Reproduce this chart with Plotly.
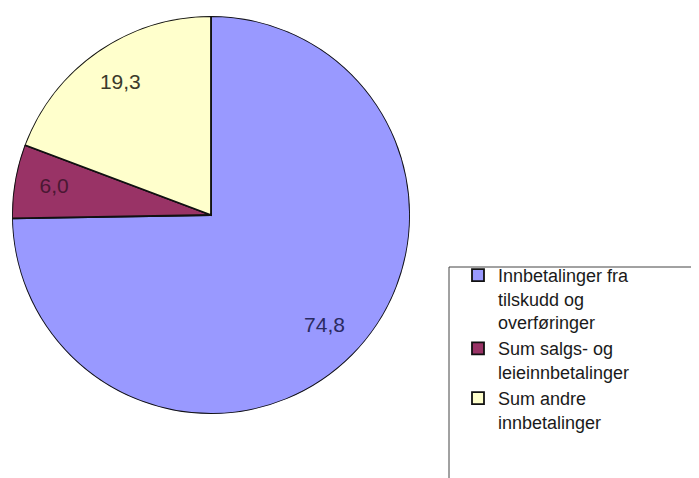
import numpy as np
import plotly.graph_objects as go

labels = [
    'Innbetalinger fra<br>tilskudd og<br>overføringer',
    'Sum salgs- og<br>leieinnbetalinger',
    'Sum andre<br>innbetalinger',
]
values = [74.8, 6.0, 19.3]
colors = ['#9999FF', '#993366', '#FFFFCC']
text_colors = ['#2a2a60', '#4a1833', '#3a3a2a']

W, H = 699, 478
OFF = 8  # page body margin in the browser

# pie box in page pixels
px0, px1, py0, py1 = 12, 410, 15, 415
dom_x = [(px0 - OFF) / W, (px1 - OFF) / W]
dom_y = [1 - (py1 - OFF) / H, 1 - (py0 - OFF) / H]

vals = np.array(values)
share = vals / vals.sum() * 360
mid = np.cumsum(share) - share / 2

fig = go.Figure()
# pie slices drawn as polar bars so the labels can sit on the same axes
for lab, s, m, c in zip(labels, share, mid, colors):
    fig.add_trace(go.Barpolar(
        r=[1], theta=[m], width=[s], base=0,
        name=lab,
        marker=dict(color=c, line=dict(color='#111111', width=1.8)),
        hoverinfo='name',
    ))

# value labels at 80% of the radius, on each slice's mid angle
fig.add_trace(go.Scatterpolar(
    r=[0.8] * len(values),
    theta=mid,
    mode='text',
    text=[f'{v:.1f}'.replace('.', ',') for v in values],
    textfont=dict(family='Liberation Sans, Arial', size=21, color=text_colors),
    showlegend=False,
    hoverinfo='skip',
))

fig.update_layout(
    width=W, height=H,
    paper_bgcolor='white',
    plot_bgcolor='white',
    margin=dict(l=0, r=0, t=0, b=0),
    font=dict(family='Liberation Sans, Arial', size=18, color='#1a1a1a'),
    polar=dict(
        domain=dict(x=dom_x, y=dom_y),
        bgcolor='rgba(0,0,0,0)',
        bargap=0,
        angularaxis=dict(rotation=90, direction='clockwise', visible=False),
        radialaxis=dict(range=[0, 1], visible=False),
    ),
    legend=dict(
        x=(458 - OFF) / W, y=1 - (257 - OFF) / H,
        xanchor='left', yanchor='top',
        bgcolor='rgba(0,0,0,0)', borderwidth=0,
        font=dict(size=18),
        itemwidth=30,
        tracegroupgap=0,
        valign='top',
    ),
    shapes=[dict(
        type='rect', xref='paper', yref='paper',
        x0=(449 - OFF) / W, x1=1.05,
        y0=-0.05, y1=1 - (267 - OFF) / H,
        line=dict(color='#444444', width=1),
        fillcolor='rgba(0,0,0,0)',
        layer='below',
    )],
)

fig.write_html("out.html")
